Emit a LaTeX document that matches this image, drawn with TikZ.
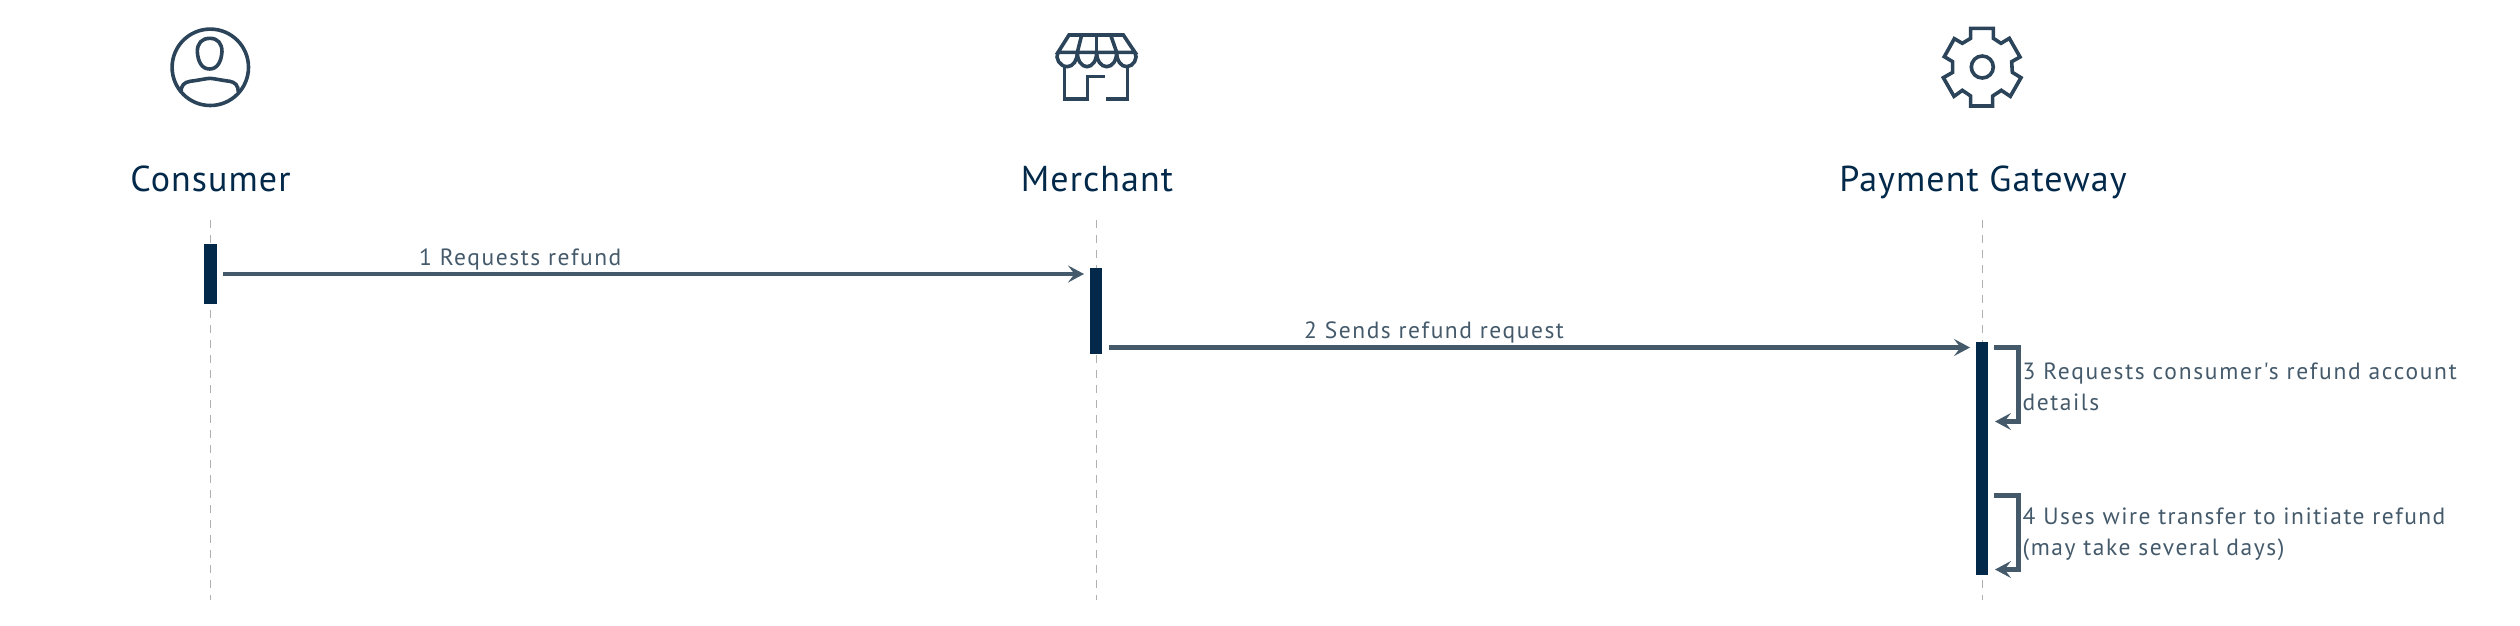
\documentclass[tikz,border=0pt]{standalone}
\usepackage{fontspec}
\setmainfont{PT Sans}
\newfontfamily\headfont[LetterSpace=3]{PT Sans}
\newfontfamily\labfont[LetterSpace=6.6]{PT Sans}
\newfontfamily\labwide[LetterSpace=7.3]{PT Sans}
\newfontfamily\labtight[LetterSpace=6.2]{PT Sans}
\usetikzlibrary{arrows.meta}
\definecolor{ink}{HTML}{03294A}
\definecolor{iconc}{HTML}{2B4459}
\definecolor{linec}{HTML}{445A6B}
\definecolor{lifec}{HTML}{B0B0B0}
\tikzset{
  head/.style={anchor=base,font=\headfont\fontsize{36}{36}\selectfont,text=ink,inner sep=0},
  lab/.style={anchor=base west,font=\labfont\fontsize{23.5}{30.5}\selectfont,text=linec,inner sep=0,align=left},
  bar/.style={draw=none,fill=ink,inner sep=0,minimum width=12.5pt},
  life/.style={draw=lifec,line width=1.2pt,dash pattern=on 8pt off 7pt},
  msg/.style={draw=linec,line width=4.4pt,-{Stealth[length=16pt,width=17pt,inset=6.5pt]}},
  ico/.style={draw=iconc,line width=3.6pt,line join=miter,fill=none}
}
\begin{document}
\begin{tikzpicture}[x=1pt,y=-1pt]
\useasboundingbox (0,0) rectangle (2520,625);
% lifelines
\coordinate (c0) at (210.3,220); \coordinate (c1) at (210.3,600);
\coordinate (m0) at (1096.5,220); \coordinate (m1) at (1096.5,600);
\coordinate (g0) at (1982.3,220); \coordinate (g1) at (1982.3,600);
\draw[life] (c0) -- (c1);
\draw[life] (m0) -- (m1);
\draw[life] (g0) -- (g1);
% headers
\node[head] (hc) at (210.5,191) {Consumer};
\node[head] (hm) at (1097,191) {Merchant};
\node[head] (hg) at (1983,191) {Payment Gateway};
% bars
\node[bar,minimum height=59.5pt] (bc) at (210.3,274) {};
\node[bar,minimum height=85.5pt] (bm) at (1096.2,311) {};
\node[bar,minimum height=233pt] (bg) at (1982,458.5) {};
% messages
\coordinate (a1s) at (223,274); \coordinate (a1e) at (1084,274);
\coordinate (a2s) at (1108.6,347.5); \coordinate (a2e) at (1970,347.5);
\draw[msg] (a1s) -- (a1e);
\draw[msg] (a2s) -- (a2e);
\coordinate (s3a) at (1994,347.5); \coordinate (s3b) at (2018.6,347.5);
\coordinate (s3c) at (2018.6,421.5); \coordinate (s3d) at (1995,421.5);
\coordinate (s4a) at (1994,495.5); \coordinate (s4b) at (2018.6,495.5);
\coordinate (s4c) at (2018.6,569.5); \coordinate (s4d) at (1995,569.5);
\draw[msg] (s3a) -- (s3b) -- (s3c) -- (s3d);
\draw[msg] (s4a) -- (s4b) -- (s4c) -- (s4d);
% labels
\node[lab] (l1) at (419,265) {1 Requests refund};
\node[lab] (l2) at (1304,338) {2 Sends refund request};
\node[lab,anchor=north west,text width=480pt] (l3) at (2022.5,363) {{\labwide 3 Requests consumer's refund account}\\details};
\node[lab,anchor=north west,text width=480pt] (l4) at (2022.5,508) {{\labtight 4 Uses wire transfer to initiate refund}\\(may take several days)};
% consumer icon
\draw[ico] (210.3,67.3) circle (38.2);
\begin{scope}[shift={(100,0)},x=0.3333pt,y=-0.3333pt]
\draw[ico] (330,115) .. controls (305,115) and (292,130) .. (292,155) .. controls (294,185) and (305,207) .. (329,207) .. controls (352,207) and (364,185) .. (366,155) .. controls (366,130) and (353,115) .. (330,115) -- cycle;
\draw[ico] (243,276) .. controls (243,256) and (253,247) .. (270,244) .. controls (295,241) and (315,236) .. (330,235) .. controls (345,236) and (365,241) .. (390,244) .. controls (405,247) and (415,256) .. (415,276);
\end{scope}
% merchant icon
\begin{scope}[shift={(1020,0)},x=0.3333pt,y=-0.3333pt]
\draw[ico] (114,157) -- (147,105) -- (310,105) -- (345,157) -- cycle;
\draw[ico] (185,105) -- (172,157);
\draw[ico] (230,105) -- (230,157);
\draw[ico] (272,105) -- (290,157);
\draw[ico] (114,157) .. controls (104,175) and (120,200) .. (142,200) .. controls (160,200) and (172,180) .. (172,157);
\draw[ico] (172,157) .. controls (172,182) and (185,200) .. (201,200) .. controls (217,200) and (230,182) .. (230,157);
\draw[ico] (230,157) .. controls (230,182) and (243,200) .. (260,200) .. controls (277,200) and (290,182) .. (290,157);
\draw[ico] (290,157) .. controls (290,182) and (303,200) .. (320,200) .. controls (340,200) and (355,175) .. (345,157);
\draw[ico] (134,200) -- (134,297) -- (203,297) -- (203,230) -- (256,230);
\draw[ico] (257,297) -- (323,297) -- (323,200);
\end{scope}
% gateway icon
\begin{scope}[shift={(1930,10)},x=0.3333pt,y=-0.3333pt]
\draw[ico] (122,55) -- (190,55) -- (190,85) -- (213,100) -- (238,85) -- (270,141) -- (245,155) -- (247,187) -- (273,203) -- (241,259) -- (214,241) -- (188,258) -- (188,288) -- (122,288) -- (122,258) -- (97,241) -- (72,259) -- (40,203) -- (68,187) -- (68,155) -- (43,140) -- (73,86) -- (97,100) -- (122,85) -- cycle;
\end{scope}
\draw[ico] (1982.3,67) circle (11);
\end{tikzpicture}
\end{document}
